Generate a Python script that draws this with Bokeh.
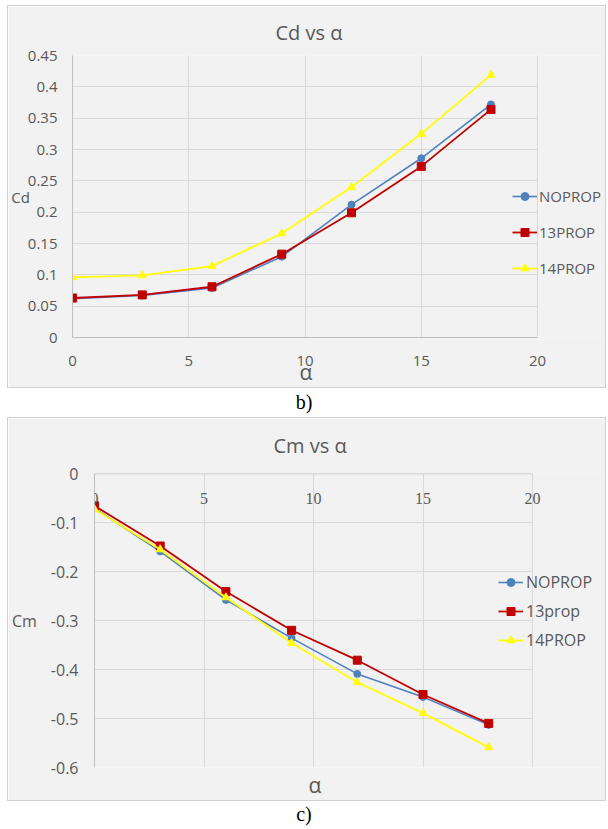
from bokeh.plotting import figure
from bokeh.models import (Legend, LegendItem, LabelSet, ColumnDataSource,
                          FixedTicker, Div, Range1d, Title)
from bokeh.layouts import column
from bokeh.embed import file_html
from bokeh.resources import INLINE

# ---------------- data ----------------
alpha = [0, 3, 6, 9, 12, 15, 18]

cd_noprop = [0.062, 0.067, 0.079, 0.129, 0.212, 0.286, 0.372]
cd_13prop = [0.063, 0.068, 0.081, 0.133, 0.199, 0.273, 0.364]
cd_14prop = [0.096, 0.099, 0.114, 0.166, 0.240, 0.325, 0.419]

cm_noprop = [-0.071, -0.159, -0.258, -0.336, -0.409, -0.456, -0.513]
cm_13prop = [-0.066, -0.148, -0.241, -0.320, -0.381, -0.451, -0.510]
cm_14prop = [-0.073, -0.155, -0.253, -0.346, -0.426, -0.489, -0.559]

x_ticks = [0, 5, 10, 15, 20]
x_tick_labels = ["0", "5", "10", "15", "20"]
cd_ticks = [0, 0.05, 0.1, 0.15, 0.2, 0.25, 0.3, 0.35, 0.4, 0.45]
cd_tick_labels = ["0", "0.05", "0.1", "0.15", "0.2", "0.25", "0.3", "0.35", "0.4", "0.45"]
cm_ticks = [0, -0.1, -0.2, -0.3, -0.4, -0.5, -0.6]
cm_tick_labels = ["0", "-0.1", "-0.2", "-0.3", "-0.4", "-0.5", "-0.6"]

cd_names = ["NOPROP", "13PROP", "14PROP"]
cm_names = ["NOPROP", "13prop", "14PROP"]

# ---------------- style ----------------
FONT = "Open Sans"
TXT = "#595959"
BG = "#f2f2f2"
GRID = "#d9d9d9"
AXIS = "#bfbfbf"
BLUE = "#4f81bd"
RED = "#c00000"
YELLOW = "#ffff00"


def base_fig(w, h, left, right, top, bottom, x_end, yr, title, fs,
             title_valign, title_standoff, title_offset):
    p = figure(width=w, height=h, x_range=Range1d(0, x_end), y_range=Range1d(*yr),
               output_backend="svg", toolbar_location=None,
               min_border_left=left, min_border_right=right,
               min_border_top=top, min_border_bottom=bottom,
               background_fill_color=BG, border_fill_color=BG,
               outline_line_color=None,
               styles={"outline": "1px solid #d0d0d0"})
    if "frame_align" in p.properties():
        p.frame_align = False
    p.title.text = title
    p.title.align = "left"
    p.title.vertical_align = title_valign
    p.title.offset = title_offset
    p.title.text_font = FONT
    p.title.text_font_size = "20px"
    p.title.text_font_style = "normal"
    p.title.text_color = TXT
    p.title.standoff = title_standoff
    for ax in (p.xaxis[0], p.yaxis[0]):
        ax.major_tick_line_color = None
        ax.minor_tick_line_color = None
        ax.major_tick_in = 0
        ax.major_tick_out = 0
        ax.minor_tick_in = 0
        ax.minor_tick_out = 0
        ax.axis_line_color = AXIS
        ax.major_label_text_font = FONT
        ax.major_label_text_font_size = fs
        ax.major_label_text_color = TXT
        ax.axis_label_text_font = FONT
        ax.axis_label_text_font_style = "normal"
        ax.axis_label_text_color = TXT
    p.xaxis.bounds = (x_ticks[0], x_ticks[-1])
    p.xgrid.grid_line_color = GRID
    p.xgrid.ticker = FixedTicker(ticks=x_ticks)
    return p


def hgrid(p, ticks):
    g = p.ygrid[0]
    g.ticker = FixedTicker(ticks=ticks)
    if "cross_bounds" in g.properties():
        g.grid_line_color = GRID
        g.cross_bounds = (x_ticks[0], x_ticks[-1])
    else:
        g.grid_line_color = None
        p.segment(x0=[x_ticks[0]] * len(ticks), x1=[x_ticks[-1]] * len(ticks),
                  y0=ticks, y1=ticks, line_color=GRID, line_width=1, level="underlay")


def horizontal_ylabel(ax, text, size, standoff):
    ax.axis_label = text
    ax.axis_label_text_font_size = size
    ax.axis_label_standoff = standoff
    if "axis_label_orientation" in ax.properties():
        ax.axis_label_orientation = "horizontal"


def x_title(p, offset, valign, standoff):
    t = Title(text="α", align="left", vertical_align=valign, offset=offset, standoff=standoff,
              text_font=FONT, text_font_size="21px", text_font_style="normal", text_color=TXT)
    p.add_layout(t, "below")


def add_series(p, ys, names):
    l1 = p.line(alpha, ys[0], line_color=BLUE, line_width=1.6)
    s1 = p.scatter(alpha, ys[0], marker="circle", size=7, fill_color=BLUE, line_color=BLUE)
    l2 = p.line(alpha, ys[1], line_color=RED, line_width=1.8)
    s2 = p.scatter(alpha, ys[1], marker="square", size=8, fill_color=RED, line_color=RED)
    l3 = p.line(alpha, ys[2], line_color=YELLOW, line_width=1.8)
    s3 = p.scatter(alpha, ys[2], marker="triangle", size=8, fill_color=YELLOW, line_color=YELLOW)
    return [LegendItem(label=names[0], renderers=[l1, s1]),
            LegendItem(label=names[1], renderers=[l2, s2]),
            LegendItem(label=names[2], renderers=[l3, s3])]


# ---------------- Cd chart ----------------
# plot area 0..20 spans 465 px; frame extended to the chart's right edge for the legend
p1 = base_fig(597, 381, 64, 0, 49, 50, 20 * 533 / 465, (0, 0.45), "Cd vs α", "15px",
              "bottom", 19, 203)
p1.margin = (6, 0, 0, 8)
p1.xaxis.ticker = FixedTicker(ticks=x_ticks)
p1.xaxis.major_label_overrides = dict(zip(x_ticks, x_tick_labels))
p1.yaxis.ticker = FixedTicker(ticks=cd_ticks)
p1.yaxis.major_label_overrides = dict(zip(cd_ticks, cd_tick_labels))
p1.xaxis.major_label_standoff = 18
p1.yaxis.major_label_standoff = 15
horizontal_ylabel(p1.yaxis[0], "Cd", "15px", -5)
x_title(p1, 227, "top", -22)
hgrid(p1, cd_ticks)

items1 = add_series(p1, [cd_noprop, cd_13prop, cd_14prop], cd_names)
leg1 = Legend(items=items1, location=(440, 59), orientation="vertical",
              glyph_width=25, glyph_height=20, label_height=20, label_standoff=2,
              spacing=16, padding=0, margin=0, background_fill_alpha=0,
              border_line_alpha=0, label_text_font=FONT, label_text_font_size="15px",
              label_text_color=TXT)
p1.add_layout(leg1, "center")

# ---------------- Cm chart ----------------
p2 = base_fig(597, 382, 86, 0, 55, 32, 20 * 511 / 438, (-0.6, 0), "Cm vs α", "16px",
              "top", 25, 179)
p2.margin = (0, 0, 0, 8)
p2.xaxis.visible = False
p2.yaxis.ticker = FixedTicker(ticks=cm_ticks)
p2.yaxis.major_label_overrides = dict(zip(cm_ticks, cm_tick_labels))
p2.yaxis.major_label_standoff = 16
horizontal_ylabel(p2.yaxis[0], "Cm", "16px", 11)
x_title(p2, 214, "bottom", 3)
hgrid(p2, cm_ticks)
# horizontal axis line crossing at Cm = 0 (top edge of the plot area)
p2.line(x=[x_ticks[0], x_ticks[-1]], y=[cm_ticks[0], cm_ticks[0]], line_color=AXIS, line_width=1.5)

xlab_src = ColumnDataSource(dict(x=x_ticks, y=[cm_ticks[0]] * len(x_ticks), text=x_tick_labels))
p2.add_layout(LabelSet(x="x", y="y", text="text", source=xlab_src, y_offset=-25,
                       text_font=FONT, text_font_size="16px", text_color=TXT,
                       text_align="center", text_baseline="middle"))

items2 = add_series(p2, [cm_noprop, cm_13prop, cm_14prop], cm_names)
leg2 = Legend(items=items2, location=(404, 116), orientation="vertical",
              glyph_width=25, glyph_height=20, label_height=20, label_standoff=3,
              spacing=7, padding=0, margin=0, background_fill_alpha=0,
              border_line_alpha=0, label_text_font=FONT, label_text_font_size="16px",
              label_text_color=TXT)
p2.add_layout(leg2, "center")

# ---------------- captions ----------------
cap_style = {"font-family": "Liberation Serif", "font-size": "20px", "text-align": "center",
             "line-height": "31px", "color": "#000000", "padding-left": "12px"}
div_b = Div(text="b)", width=596, height=31, margin=0, styles=cap_style)
div_c = Div(text="c)", width=596, height=29, margin=0,
            styles=dict(cap_style, **{"line-height": "29px"}))

layout = column(p1, div_b, p2, div_c, spacing=0)
open("out.html", "w").write(file_html(layout, INLINE))
